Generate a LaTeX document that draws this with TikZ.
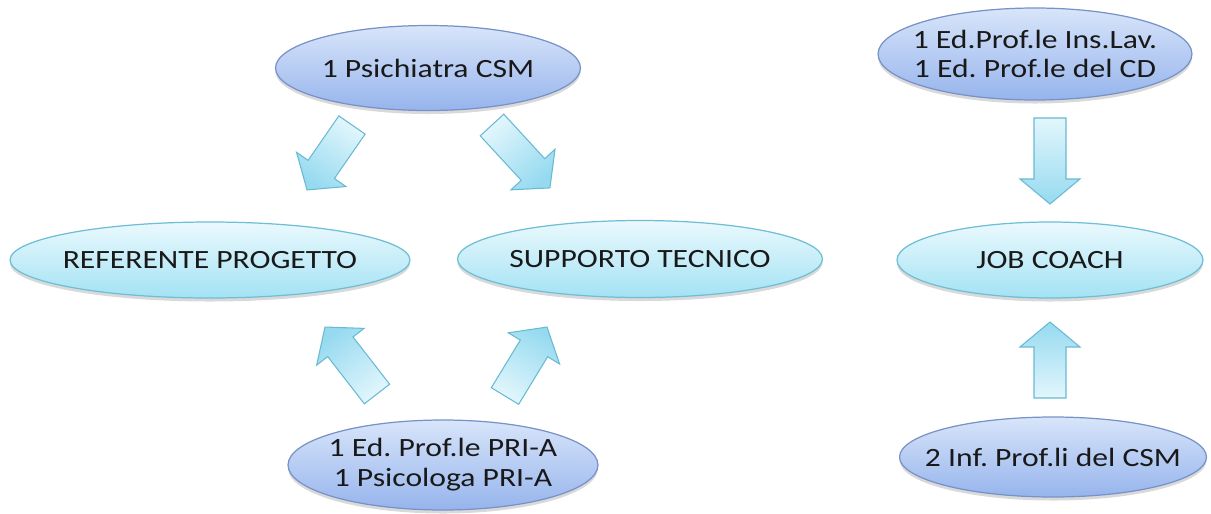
\documentclass[tikz,border=0pt]{standalone}
\usepackage{fontspec}
\setmainfont{Carlito}[FakeStretch=1.2]
\frenchspacing
\usetikzlibrary{calc,shapes,shadows}
\definecolor{bluetop}{RGB}{216,229,250}
\definecolor{bluebot}{RGB}{150,180,236}
\definecolor{blueline}{RGB}{120,146,200}
\definecolor{cyantop}{RGB}{234,249,253}
\definecolor{cyanbot}{RGB}{163,226,244}
\definecolor{cyanline}{RGB}{110,190,214}
\definecolor{arrtail}{RGB}{226,246,252}
\definecolor{arrhead}{RGB}{150,218,240}
\definecolor{arrline}{RGB}{104,186,210}
\tikzset{
  oval/.style={ellipse,inner sep=0pt,line width=.7pt,
    drop shadow={shadow xshift=0pt,shadow yshift=-2pt,opacity=.3}},
  blueoval/.style={oval,draw=blueline,top color=bluetop,bottom color=bluebot},
  cyanoval/.style={oval,draw=cyanline,top color=cyantop,bottom color=cyanbot},
  every label/.style={align=center,text=black!90,font=\fontsize{15}{17}\selectfont},
  arrowbox/.style={draw=arrline,line width=.6pt,line join=miter,
    left color=arrtail,right color=arrhead}
}
% block arrow from #1 (tail) to #2 (tip)
\newcommand\blockarrow[2]{%
  \path let \p1=($(#2)-(#1)$) in \pgfextra{%
    \pgfmathsetmacro\arrang{atan2(\y1,\x1)}\global\let\arrang\arrang
    \pgfmathsetmacro\arrlen{veclen(\x1,\y1)}\global\let\arrlen\arrlen};
  \pgfmathsetmacro\shadang{90+\arrang}
  \begin{scope}[shift={(#1)},rotate=\arrang]
    \shade[arrowbox,shading angle=\shadang] (0pt,-.32cm) -- ({\arrlen*1pt-.5cm},-.32cm)
      -- ({\arrlen*1pt-.5cm},-.6cm) -- (\arrlen pt,0pt) -- ({\arrlen*1pt-.5cm},.6cm)
      -- ({\arrlen*1pt-.5cm},.32cm) -- (0pt,.32cm) -- cycle;
  \end{scope}}
\begin{document}
\begin{tikzpicture}[x=.02cm,y=-.02cm]
  \useasboundingbox (0,0) rectangle (1211,514);
  % roles
  \node[blueoval,minimum width=6.1cm,minimum height=1.7cm,label=center:1 Psichiatra CSM] (psi) at (428,68) {};
  \node[cyanoval,minimum width=8cm,minimum height=1.52cm,label=center:REFERENTE PROGETTO] (ref) at (210,260) {};
  \node[cyanoval,minimum width=7.3cm,minimum height=1.54cm,label=center:SUPPORTO TECNICO] (sup) at (640,259) {};
  \node[cyanoval,minimum width=6.12cm,minimum height=1.52cm,label=center:JOB COACH] (job) at (1050,260) {};
  \node[blueoval,minimum width=6.28cm,minimum height=1.84cm,label={center:1 Ed.Prof.le Ins.Lav.\\1 Ed. Prof.le del CD}] (ins) at (1035,54) {};
  \node[blueoval,minimum width=6.2cm,minimum height=1.8cm,label={center:1 Ed. Prof.le PRI-A\\1 Psicologa PRI-A}] (pri) at (443,465) {};
  \node[blueoval,minimum width=6.14cm,minimum height=1.6cm,label=center:2 Inf. Prof.li del CSM] (inf) at (1053,457) {};
  % arrow ends
  \coordinate (psiL) at (352,125); \coordinate (refT) at (307,190);
  \coordinate (psiR) at (492,125); \coordinate (supT) at (550,188);
  \coordinate (priL) at (377,394); \coordinate (refB) at (325,327);
  \coordinate (priR) at (505,396); \coordinate (supB) at (547,327);
  \coordinate (insB) at (1050,118); \coordinate (jobT) at (1050,204);
  \coordinate (infT) at (1050,398); \coordinate (jobB) at (1050,322);
  \blockarrow{psiL}{refT}
  \blockarrow{psiR}{supT}
  \blockarrow{priL}{refB}
  \blockarrow{priR}{supB}
  \blockarrow{insB}{jobT}
  \blockarrow{infT}{jobB}
\end{tikzpicture}
\end{document}
